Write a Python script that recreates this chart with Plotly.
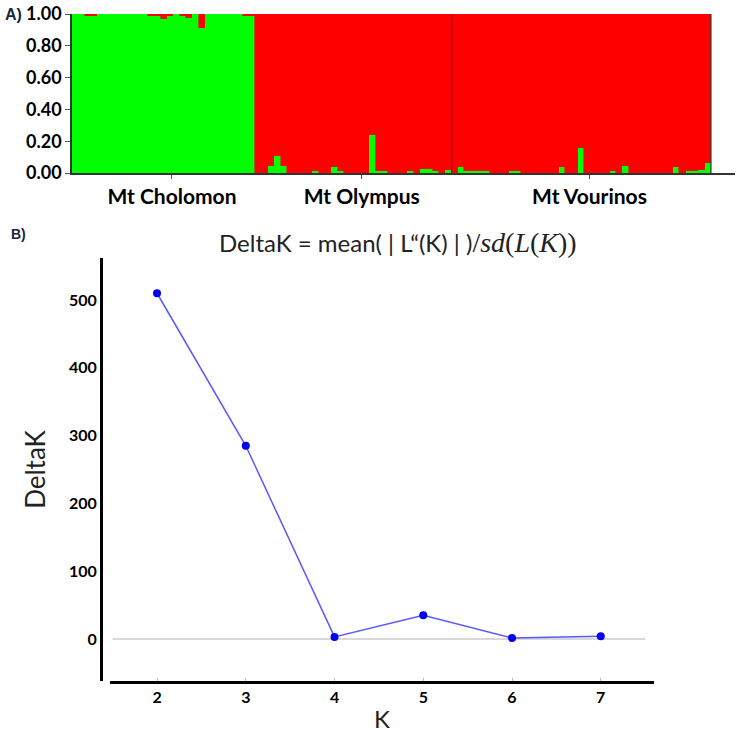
import plotly.graph_objects as go

# ---------------- Data ----------------
groups = ["Mt Cholomon", "Mt Olympus", "Mt Vourinos"]
group_sizes = [29, 31, 41]

cholomon_green = [1.0, 1.0, 0.99, 0.99, 1.0, 1.0, 1.0, 1.0, 1.0, 1.0, 1.0, 1.0,
                  0.99, 0.99, 0.97, 0.99, 1.0, 0.985, 0.975, 1.0, 0.915, 1.0,
                  1.0, 1.0, 1.0, 1.0, 1.0, 0.99, 0.99]
olympus_green = [0.0, 0.0, 0.045, 0.11, 0.045, 0.0, 0.0, 0.0, 0.0, 0.015, 0.0,
                 0.0, 0.04, 0.01, 0.0, 0.0, 0.0, 0.0, 0.24, 0.01, 0.01, 0.0,
                 0.0, 0.0, 0.01, 0.0, 0.025, 0.025, 0.01, 0.0, 0.02]
vourinos_green = [0.0, 0.035, 0.015, 0.01, 0.015, 0.01, 0.0, 0.0, 0.0, 0.01,
                  0.015, 0.0, 0.0, 0.0, 0.0, 0.0, 0.0, 0.04, 0.0, 0.0, 0.16,
                  0.0, 0.0, 0.0, 0.0, 0.01, 0.0, 0.045, 0.0, 0.0, 0.0, 0.0,
                  0.0, 0.0, 0.0, 0.04, 0.0, 0.01, 0.015, 0.02, 0.06]

y_ticks_a = [0.0, 0.2, 0.4, 0.6, 0.8, 1.0]
y_ticklabels_a = ["0.00", "0.20", "0.40", "0.60", "0.80", "1.00"]

K_values = [2, 3, 4, 5, 6, 7]
delta_K = [510, 285, 3, 35, 1.5, 4]
y_ticks_b = [0, 100, 200, 300, 400, 500]

# ---------------- Derived ----------------
green = cholomon_green + olympus_green + vourinos_green
red = [1.0 - g for g in green]
xs = list(range(len(green)))

starts = []
acc = 0
for n in group_sizes:
    starts.append(acc)
    acc += n
ends = [s + n for s, n in zip(starts, group_sizes)]
mids = [(s + e) / 2 - 0.5 + 1.3 for s, e in zip(starts, ends)]

W, H = 744, 740
def px_x(p):
    return p / W
def px_y(p):
    return 1 - p / H

BOLD = "Lato"

fig = go.Figure()
fig.add_bar(x=xs, y=green, width=1, xaxis="x", yaxis="y",
            marker=dict(color="#00ff00", line=dict(color="#00ff00", width=0.6)),
            showlegend=False, hoverinfo="skip")
fig.add_bar(x=xs, y=red, width=1, xaxis="x", yaxis="y",
            marker=dict(color="#ff0000", line=dict(color="#ff0000", width=0.6)),
            showlegend=False, hoverinfo="skip")

fig.add_scatter(x=K_values, y=delta_K, mode="lines+markers", xaxis="x2", yaxis="y2",
                line=dict(color="rgba(70,70,255,0.9)", width=1.5),
                marker=dict(color="#0000ee", size=8, symbol="circle"),
                showlegend=False)

shapes = []
for e in ends[1:]:
    shapes.append(dict(type="line", xref="x", yref="y", x0=e - 0.5, x1=e - 0.5,
                       y0=0, y1=1, line=dict(color="#333333", width=1.2)))
shapes.append(dict(type="line", xref="x2", yref="y2", x0=1.5, x1=7.5, y0=0, y1=0,
                   line=dict(color="#cccccc", width=1.5), layer="below"))

title_txt = ("DeltaK = mean( | L\u201c(K) | )"
             "<span style=\"font-family:'Liberation Serif'; font-size:28px\">"
             "/<i>sd</i>(<i>L</i>(<i>K</i>))</span>")

fig.update_layout(
    width=W, height=H,
    margin=dict(l=0, r=0, t=0, b=0),
    paper_bgcolor="white", plot_bgcolor="white",
    barmode="stack", bargap=0,
    template="none",
    xaxis=dict(domain=[px_x(72), px_x(735)], range=[-0.5, 104.3], anchor="y",
               tickvals=mids, ticktext=groups, showline=True, linecolor="#333333",
               linewidth=1.5, ticks="outside", ticklen=4, tickcolor="#555555",
               tickfont=dict(family=BOLD, size=21, color="black", weight="bold"),
               showgrid=False, zeroline=False, fixedrange=True),
    yaxis=dict(domain=[px_y(173), px_y(14)], range=[0, 1], anchor="x",
               tickvals=y_ticks_a, ticktext=y_ticklabels_a, showline=True,
               linecolor="#333333", linewidth=1.5, ticks="outside", ticklen=5,
               tickcolor="#555555",
               tickfont=dict(family=BOLD, size=18, color="black", weight="bold"),
               showgrid=False, zeroline=False),
    xaxis2=dict(domain=[px_x(110), px_x(654)], range=[1.47, 7.6], anchor="y2",
                tickvals=K_values, showline=True, linecolor="black", linewidth=3,
                ticks="inside", ticklen=3, tickcolor="#bbbbbb",
                tickfont=dict(family=BOLD, size=16, color="black", weight="bold"),
                title=dict(text="K", font=dict(family="Lato", size=24, color="#222222"),
                           standoff=6),
                showgrid=False, zeroline=False),
    yaxis2=dict(domain=[px_y(681), px_y(258)], range=[-62, 562], anchor="free",
                position=px_x(101), tickvals=y_ticks_b, showline=True,
                linecolor="black", linewidth=3, ticks="",
                tickfont=dict(family=BOLD, size=16, color="black", weight="bold"),
                title=dict(text="DeltaK", font=dict(family="Lato", size=26, color="#222222"),
                           standoff=14),
                showgrid=False, zeroline=False),
    shapes=shapes,
    annotations=[
        dict(text="A)", x=px_x(3), y=px_y(14), xref="paper", yref="paper",
             xanchor="left", yanchor="middle", showarrow=False,
             font=dict(family="Liberation Sans", size=16, color="#1a2540", weight="bold")),
        dict(text="B)", x=px_x(9), y=px_y(234), xref="paper", yref="paper",
             xanchor="left", yanchor="middle", showarrow=False,
             font=dict(family="Liberation Sans", size=14, color="#1a2540", weight="bold")),
        dict(text=title_txt,
             x=px_x(398), y=px_y(242), xref="paper", yref="paper",
             xanchor="center", yanchor="middle", showarrow=False,
             font=dict(family="Lato", size=24, color="#222222")),
    ],
)

fig.write_html("out.html")
